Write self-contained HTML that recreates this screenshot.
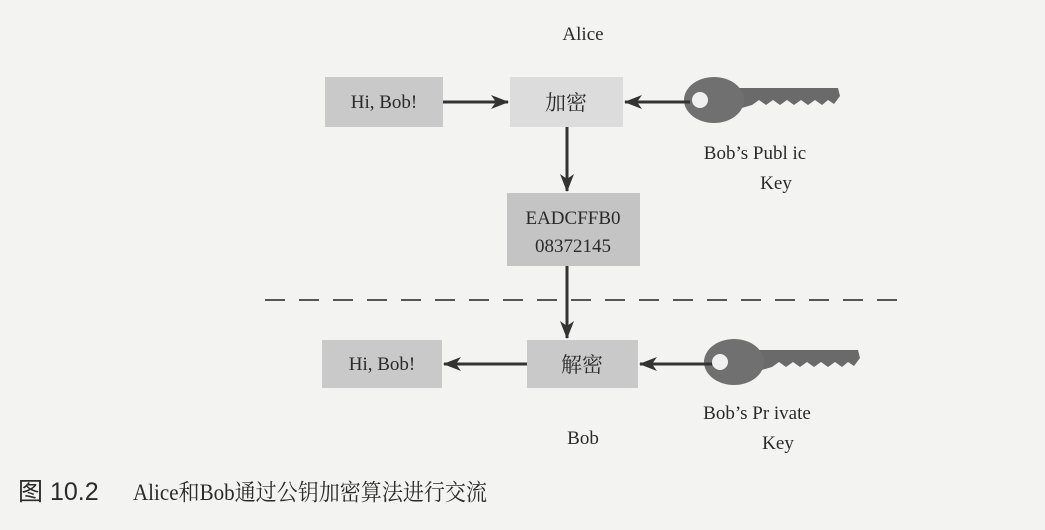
<!DOCTYPE html>
<html><head><meta charset="utf-8"><style>
body{margin:0;background:#f3f3f1;}
svg{display:block}
text{font-family:"Liberation Serif","Noto Serif CJK SC",serif;fill:#2a2a2a}
</style></head><body>
<svg width="1045" height="530" viewBox="0 0 1045 530">
<defs><marker id="a" markerWidth="18" markerHeight="14" refX="17" refY="7" orient="auto" markerUnits="userSpaceOnUse"><path d="M0,0 L18,7 L0,14 L5,7z" fill="#333"/></marker>
<g id="key"><path d="M40,-12 L150,-12 L152,-4 L146,4 L140,0 L134,5 L127,0 L120,5 L113,0 L106,5 L99,0 L92,5 L85,0 L78,5 L71,0 L64,5 L40,12z" fill="#6a6a6a"/><ellipse cx="26" cy="0" rx="30" ry="23" fill="#707070"/><circle cx="12" cy="0" r="8" fill="#f0f0f0"/></g></defs>
<text x="583" y="40" font-size="19" text-anchor="middle">Alice</text>
<rect x="325" y="77" width="118" height="50" fill="#c9c9c9"/><text x="384" y="108" font-size="19" text-anchor="middle">Hi, Bob!</text>
<rect x="510" y="77" width="113" height="50" fill="#dcdcdc"/><text x="566" y="110" font-size="21" text-anchor="middle">加密</text>
<line x1="443" y1="102" x2="508" y2="102" stroke="#333" stroke-width="3" marker-end="url(#a)"/>
<use href="#key" x="688" y="100"/>
<line x1="690" y1="102" x2="625" y2="102" stroke="#333" stroke-width="3" marker-end="url(#a)"/>
<text x="755" y="159" font-size="19" text-anchor="middle">Bob’s Publ ic</text>
<text x="776" y="189" font-size="19" text-anchor="middle">Key</text>
<line x1="567" y1="127" x2="567" y2="191" stroke="#333" stroke-width="3" marker-end="url(#a)"/>
<rect x="507" y="193" width="133" height="73" fill="#c4c4c4"/>
<text x="573" y="224" font-size="19" text-anchor="middle">EADCFFB0</text>
<text x="573" y="252" font-size="19" text-anchor="middle">08372145</text>
<line x1="265" y1="300" x2="905" y2="300" stroke="#555" stroke-width="2" stroke-dasharray="20,14"/>
<line x1="567" y1="266" x2="567" y2="338" stroke="#333" stroke-width="3" marker-end="url(#a)"/>
<rect x="322" y="340" width="120" height="48" fill="#c9c9c9"/><text x="382" y="370" font-size="19" text-anchor="middle">Hi, Bob!</text>
<rect x="527" y="340" width="111" height="48" fill="#c9c9c9"/><text x="582" y="372" font-size="21" text-anchor="middle">解密</text>
<line x1="527" y1="364" x2="444" y2="364" stroke="#333" stroke-width="3" marker-end="url(#a)"/>
<use href="#key" x="708" y="362"/>
<line x1="712" y1="364" x2="640" y2="364" stroke="#333" stroke-width="3" marker-end="url(#a)"/>
<text x="757" y="419" font-size="19" text-anchor="middle">Bob’s Pr ivate</text>
<text x="778" y="449" font-size="19" text-anchor="middle">Key</text>
<text x="583" y="444" font-size="19" text-anchor="middle">Bob</text>
<text x="18" y="500" font-size="25" style="font-family:'Liberation Sans','Noto Sans CJK SC',sans-serif">图 10.2</text>
<text x="133" y="500" font-size="23" textLength="354" lengthAdjust="spacingAndGlyphs">Alice和Bob通过公钥加密算法进行交流</text>
</svg>
</body></html>
